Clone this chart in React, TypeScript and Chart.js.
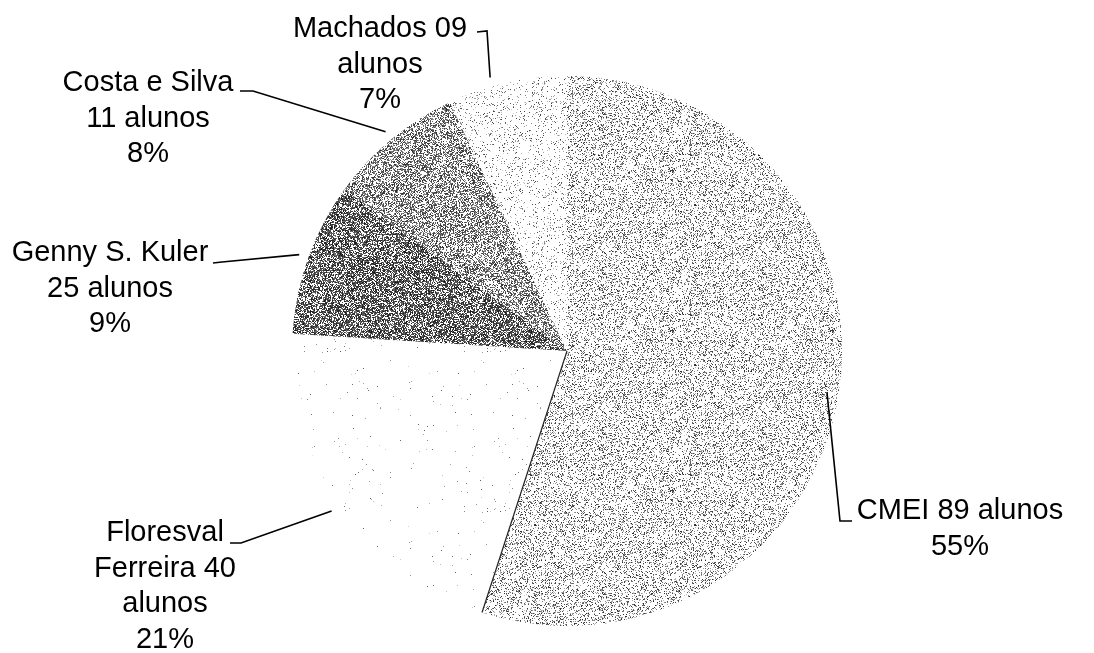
import React, { useEffect, useRef } from "react";
import { Chart, registerables } from "chart.js";

Chart.register(...registerables);

// ---- data ----
const categories = ["CMEI", "Floresval Ferreira", "Genny S. Kuler", "Costa e Silva", "Machados"];
const percentages = [55, 21, 9, 8, 7];
const students = ["89", "40", "25", "11", "09"];
const labelTexts = [
  [`CMEI ${students[0]} alunos`],
  ["Floresval", `Ferreira ${students[1]}`, "alunos"],
  ["Genny S. Kuler", `${students[2]} alunos`],
  ["Costa e Silva", `${students[3]} alunos`],
  [`Machados ${students[4]}`, "alunos"],
];

// ---- style / layout ----
// stipple texture: [dot density, dot gray min, dot gray range]
const textures: [number, number, number][] = [
  [0.25, 40, 150],
  [0.004, 90, 120],
  [0.65, 20, 100],
  [0.5, 40, 110],
  [0.1, 60, 150],
];
// label block: center x, first-line center y, leader start, elbow, anchor radius factor, angle offset (deg)
const labelLayout = [
  { x: 960, y: 511, sx: 852, sy: 521, ex: 840, ey: 521, f: 0.957, da: 0 },
  { x: 165, y: 533, sx: 230, sy: 543, ex: 241, ey: 543, f: 1.035, da: 0 },
  { x: 110, y: 253, sx: 213, sy: 263, ex: 222, ey: 262, f: 1.035, da: 0 },
  { x: 148, y: 83, sx: 240, sy: 91, ex: 253, ey: 91, f: 1.035, da: 0 },
  { x: 380, y: 29, sx: 477, sy: 32, ex: 487, ey: 31, f: 1.033, da: -3.1 },
];
const FONT = "29px 'Liberation Sans', Arial, sans-serif";
const LINE_H = 35.5;

function hash(x: number, y: number, s: number) {
  let h = (x * 374761393 + y * 668265263 + s * 2147483647) | 0;
  h = (h ^ (h >>> 13)) * 1274126177;
  h = h ^ (h >>> 16);
  return ((h >>> 0) % 100000) / 100000;
}

function makePattern(ctx: CanvasRenderingContext2D, idx: number) {
  const [density, gmin, grange] = textures[idx];
  const size = 160;
  const c = document.createElement("canvas");
  c.width = size;
  c.height = size;
  const cx = c.getContext("2d")!;
  const img = cx.createImageData(size, size);
  for (let y = 0; y < size; y++) {
    for (let x = 0; x < size; x++) {
      const i = (y * size + x) * 4;
      let v = 255;
      if (hash(x, y, idx + 1) < density) {
        v = gmin + Math.floor(hash(y, x, idx + 7) * grange);
      }
      img.data[i] = v;
      img.data[i + 1] = v;
      img.data[i + 2] = v;
      img.data[i + 3] = 255;
    }
  }
  cx.putImageData(img, 0, 0);
  return ctx.createPattern(c, "repeat")!;
}

const labelPlugin = {
  id: "pieLabels",
  afterDraw(chart: any) {
    const ctx = chart.ctx as CanvasRenderingContext2D;
    const meta = chart.getDatasetMeta(0);
    ctx.save();
    // dark edge at end of first slice
    const a0 = meta.data[0];
    ctx.strokeStyle = "#222";
    ctx.lineWidth = 1.2;
    ctx.beginPath();
    ctx.moveTo(a0.x, a0.y);
    ctx.lineTo(a0.x + Math.cos(a0.endAngle) * a0.outerRadius, a0.y + Math.sin(a0.endAngle) * a0.outerRadius);
    ctx.stroke();

    ctx.font = FONT;
    ctx.fillStyle = "#000";
    ctx.textAlign = "center";
    ctx.textBaseline = "middle";
    meta.data.forEach((arc: any, i: number) => {
      const L = labelLayout[i];
      const lines = [...labelTexts[i], `${percentages[i]}%`];
      lines.forEach((t, k) => {
        ctx.fillText(t, L.x, L.y + k * LINE_H);
      });
      const mid = (arc.startAngle + arc.endAngle) / 2 + (L.da * Math.PI) / 180;
      const r = arc.outerRadius * L.f;
      const axp = arc.x + Math.cos(mid) * r;
      const ayp = arc.y + Math.sin(mid) * r;
      ctx.strokeStyle = "#000";
      ctx.lineWidth = 1.6;
      ctx.beginPath();
      ctx.moveTo(L.sx, L.sy);
      ctx.lineTo(L.ex, L.ey);
      ctx.lineTo(axp, ayp);
      ctx.stroke();
    });
    ctx.restore();
  },
};

export default function App() {
  const ref = useRef<HTMLCanvasElement>(null);
  useEffect(() => {
    const canvas = ref.current!;
    const ctx = canvas.getContext("2d")!;
    const patterns = percentages.map((_, i) => makePattern(ctx, i));
    const chart = new Chart(canvas, {
      type: "pie",
      data: {
        labels: categories,
        datasets: [
          {
            data: percentages,
            backgroundColor: patterns,
            borderWidth: 0,
          },
        ],
      },
      options: {
        responsive: false,
        animation: false,
        layout: { padding: { top: 76, bottom: 27, left: 292, right: 252 } },
        plugins: { legend: { display: false }, tooltip: { enabled: false } },
      },
      plugins: [labelPlugin],
    });
    return () => chart.destroy();
  }, []);
  return (
    <div style={{ position: "absolute", left: 0, top: 0, width: 1094, height: 653, background: "#fff" }}>
      <canvas ref={ref} width={1094} height={653} />
    </div>
  );
}
